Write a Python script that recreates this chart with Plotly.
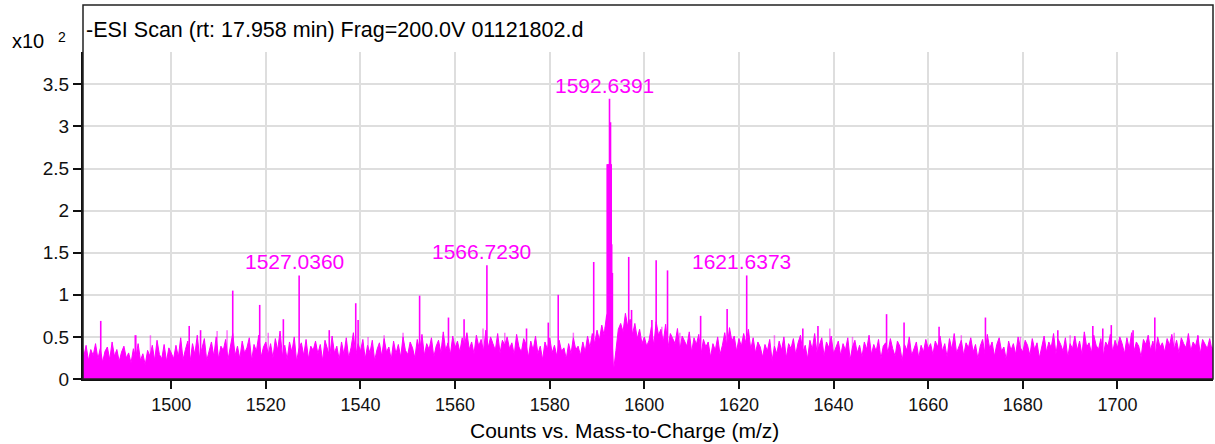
import numpy as np
import plotly.graph_objects as go

# ---------------- data (intensity in units of x10^2 counts) ----------------
noise_start = 1481.0
noise_step = 0.5
noise_vals = [
    0.48,0.26,0.40,0.22,0.35,0.28,0.42,0.24,0.36,0.20,0.33,0.38,0.23,0.44,0.27,0.35,0.21,0.32,0.39,0.25,
    0.31,0.19,0.36,0.25,0.42,0.22,0.30,0.17,0.34,0.27,0.40,0.22,0.46,0.29,0.24,0.41,0.21,0.37,0.31,0.24,
    0.40,0.26,0.49,0.23,0.35,0.45,0.21,0.42,0.29,0.52,0.25,0.37,0.48,0.22,0.33,0.44,0.27,0.50,0.24,0.39,
    0.34,0.47,0.23,0.41,0.54,0.28,0.39,0.24,0.45,0.31,0.37,0.49,0.22,0.41,0.33,0.52,0.26,0.38,0.44,0.29,
    0.42,0.25,0.48,0.34,0.57,0.27,0.40,0.23,0.44,0.32,0.50,0.21,0.36,0.43,0.28,0.47,0.24,0.39,0.34,0.45,
    0.30,0.41,0.22,0.46,0.35,0.26,0.51,0.31,0.39,0.23,0.44,0.29,0.49,0.25,0.37,0.55,0.28,0.42,0.33,0.47,
    0.24,0.40,0.31,0.46,0.22,0.35,0.43,0.27,0.48,0.32,0.38,0.23,0.45,0.30,0.41,0.26,0.50,0.34,0.29,0.44,
    0.37,0.25,0.47,0.33,0.53,0.28,0.42,0.35,0.49,0.26,0.39,0.46,0.31,0.56,0.34,0.43,0.29,0.51,0.37,0.45,
    0.32,0.49,0.40,0.55,0.35,0.44,0.30,0.52,0.39,0.47,0.33,0.58,0.37,0.50,0.42,0.34,0.54,0.31,0.46,0.40,
    0.50,0.36,0.43,0.29,0.53,0.38,0.32,0.48,0.41,0.26,0.45,0.34,0.51,0.30,0.39,0.23,0.44,0.35,0.49,0.31,
    0.40,0.27,0.46,0.33,0.37,0.24,0.42,0.30,0.49,0.35,0.39,0.28,0.44,0.32,0.51,0.37,0.54,0.42,0.58,0.46,
    0.64,0.52,0.75,0.82,0.68,0.10,0.34,0.59,0.66,0.56,0.78,0.62,0.71,0.53,0.66,0.48,0.59,0.42,0.50,0.39,
    0.46,0.62,0.40,0.68,0.52,0.59,0.44,0.65,0.37,0.54,0.48,0.42,0.60,0.34,0.51,0.45,0.39,0.56,0.32,0.49,
    0.41,0.53,0.30,0.47,0.38,0.44,0.26,0.42,0.34,0.50,0.29,0.40,0.55,0.37,0.61,0.45,0.51,0.33,0.48,0.39,
    0.54,0.42,0.59,0.35,0.49,0.31,0.44,0.38,0.26,0.41,0.33,0.47,0.22,0.39,0.30,0.45,0.34,0.50,0.25,0.42,
    0.36,0.48,0.29,0.43,0.52,0.32,0.40,0.24,0.46,0.35,0.54,0.31,0.41,0.49,0.27,0.44,0.37,0.51,0.30,0.39,
    0.45,0.28,0.42,0.34,0.49,0.23,0.38,0.46,0.31,0.40,0.26,0.44,0.35,0.52,0.29,0.41,0.33,0.47,0.24,0.39,
    0.43,0.31,0.48,0.36,0.27,0.45,0.39,0.22,0.41,0.34,0.50,0.28,0.37,0.44,0.25,0.40,0.32,0.47,0.36,0.42,
    0.29,0.45,0.38,0.51,0.33,0.42,0.26,0.48,0.35,0.54,0.31,0.40,0.46,0.28,0.43,0.37,0.49,0.32,0.41,0.24,
    0.39,0.47,0.30,0.53,0.36,0.44,0.27,0.41,0.49,0.33,0.38,0.23,0.45,0.34,0.42,0.29,0.50,0.37,0.32,0.46,
    0.40,0.28,0.48,0.35,0.43,0.25,0.39,0.51,0.32,0.44,0.37,0.54,0.30,0.47,0.41,0.33,0.49,0.26,0.42,0.36,
    0.51,0.34,0.45,0.29,0.56,0.38,0.43,0.31,0.52,0.40,0.35,0.48,0.27,0.44,0.39,0.53,0.32,0.46,0.37,0.50,
    0.42,0.30,0.49,0.36,0.55,0.33,0.44,0.39,0.26,0.47,0.41,0.52,0.34,0.45,0.29,0.50,0.38,0.43,0.32,0.48,
    0.40,0.53,0.35,0.46,0.31,0.49,0.42,0.37,0.54,0.33,0.44,0.39,0.51,0.30,0.47,0.41,0.36,0.48,0.34,0.43,
]

peak_mz = [1485.1, 1492.4, 1503.8, 1506.2, 1513.0, 1518.7, 1523.7, 1527.036, 1533.4, 1539.0,
           1539.5, 1552.5, 1558.6, 1561.9, 1566.723, 1575.1, 1579.7, 1581.8, 1589.3, 1591.8,
           1592.15, 1592.3, 1592.4, 1592.5, 1592.639, 1592.75, 1592.85, 1592.95, 1593.0, 1593.1,
           1593.25, 1596.7, 1597.3, 1601.6, 1602.5,
           1604.9, 1611.9, 1617.5, 1621.637, 1633.5, 1636.7, 1651.2, 1654.9, 1662.3, 1672.1,
           1687.4, 1694.8, 1696.9, 1698.7, 1703.3, 1707.9, 1717.0]
peak_int = [0.69, 0.52, 0.63, 0.58, 1.05, 0.88, 0.71, 1.23, 0.58, 0.90,
            0.70, 0.99, 0.73, 0.71, 1.35, 0.60, 0.67, 1.00, 1.39, 0.62,
            2.55, 2.55, 2.55, 2.55, 3.33, 2.55, 3.05, 2.55, 2.55, 1.60,
            1.26, 1.45, 0.82, 0.70, 1.41,
            1.29, 0.75, 0.83, 1.23, 0.60, 0.63, 0.77, 0.67, 0.62, 0.73,
            0.58, 0.63, 0.60, 0.64, 0.58, 0.73, 0.52]

minor_mz = [1492.6, 1495.6, 1509.7, 1511.8, 1520.5, 1541.6, 1545.0, 1549.0, 1565.9, 1570.5,
            1585.0, 1603.7, 1607.5, 1627.5, 1639.2, 1644.0, 1667.0, 1679.5, 1690.0, 1712.0]
minor_int = [0.52, 0.52, 0.57, 0.58, 0.55, 0.50, 0.52, 0.55, 0.60, 0.55,
             0.55, 0.62, 0.55, 0.52, 0.60, 0.50, 0.52, 0.50, 0.52, 0.55]

label_mz = [1527.036, 1566.723, 1592.639, 1621.637]
label_int = [1.23, 1.35, 3.33, 1.23]
label_txt = ["1527.0360", "1566.7230", "1592.6391", "1621.6373"]

x_ticks = [1500, 1520, 1540, 1560, 1580, 1600, 1620, 1640, 1660, 1680, 1700]
y_ticks = [0, 0.5, 1, 1.5, 2, 2.5, 3, 3.5]
y_ticktext = ["0", "0.5", "1", "1.5", "2", "2.5", "3", "3.5"]

title_txt = "-ESI Scan (rt: 17.958 min) Frag=200.0V 01121802.d"
x_title = "Counts vs. Mass-to-Charge (m/z)"

# ---------------- figure ----------------
MAG = "#FF00FF"
FONT = "Liberation Sans"

noise_x = noise_start + noise_step * np.arange(len(noise_vals))


def sticks(mz, inten):
    sx, sy = [], []
    for m, h in zip(mz, inten):
        sx += [m, m, None]
        sy += [0, h, None]
    return sx, sy


fig = go.Figure()
fig.add_trace(go.Scatter(x=noise_x, y=noise_vals, mode="lines",
                         line=dict(color=MAG, width=1), fill="tozeroy",
                         fillcolor=MAG, hoverinfo="skip", showlegend=False))
mx, my = sticks(minor_mz, minor_int)
fig.add_trace(go.Scatter(x=mx, y=my, mode="lines",
                         line=dict(color="rgba(255,0,255,0.55)", width=1.5),
                         hoverinfo="skip", showlegend=False))
sx, sy = sticks(peak_mz, peak_int)
fig.add_trace(go.Scatter(x=sx, y=sy, mode="lines",
                         line=dict(color=MAG, width=1.6), hoverinfo="skip",
                         showlegend=False))

for m, h, t in zip(label_mz, label_int, label_txt):
    fig.add_annotation(x=m, y=h, text=t, showarrow=False, xanchor="center",
                       yanchor="bottom", xshift=-5, yshift=0,
                       font=dict(family=FONT, size=21, color=MAG))

W, H = 1215, 444
ml, mr, mt, mb = 83, 2, 52, 65
pw = W - ml - mr
ph = H - mt - mb

fig.add_annotation(xref="paper", yref="paper", x=1 / pw, y=1 + 22 / ph,
                   text=title_txt, showarrow=False, xanchor="left", yanchor="middle",
                   font=dict(family=FONT, size=21.5, color="black"))
fig.add_annotation(xref="paper", yref="paper", x=(624 - ml) / pw, y=-51 / ph,
                   text=x_title, showarrow=False, xanchor="center", yanchor="middle",
                   font=dict(family=FONT, size=21, color="black"))
fig.add_annotation(xref="paper", yref="paper", x=-37 / pw, y=1 + (379 - 41 - ph) / ph,
                   text="x10", showarrow=False, xanchor="right", yanchor="middle",
                   font=dict(family=FONT, size=20, color="black"))
fig.add_annotation(xref="paper", yref="paper", x=-15 / pw, y=1 + (379 - 37 - ph) / ph,
                   text="2", showarrow=False, xanchor="right", yanchor="middle",
                   font=dict(family=FONT, size=14, color="black"))

# frame extending above the plotting area (title strip)
fig.add_shape(type="rect", xref="paper", yref="paper", x0=0, x1=1, y0=0,
              y1=1 + 47 / ph, line=dict(color="#222222", width=1.5), layer="above")

fig.update_layout(
    width=W, height=H, margin=dict(l=ml, r=mr, t=mt, b=mb),
    paper_bgcolor="white", plot_bgcolor="white",
    font=dict(family=FONT, size=18, color="#111111"),
    xaxis=dict(range=[1481.35, 1720.2], tickvals=x_ticks, ticks="outside", ticklen=8,
               tickwidth=2, tickcolor="#111111", showline=True, linecolor="#111111",
               linewidth=2, showgrid=True, gridcolor="#dedede", gridwidth=2,
               zeroline=False, tickfont=dict(size=18)),
    yaxis=dict(range=[0, 3.884], tickvals=y_ticks, ticktext=y_ticktext, ticks="outside",
               ticklen=8, tickwidth=2, tickcolor="#111111", showline=True,
               linecolor="#111111", linewidth=2, showgrid=True, gridcolor="#dedede",
               gridwidth=2, zeroline=False, tickfont=dict(size=19)),
)

fig.write_html("out.html")
